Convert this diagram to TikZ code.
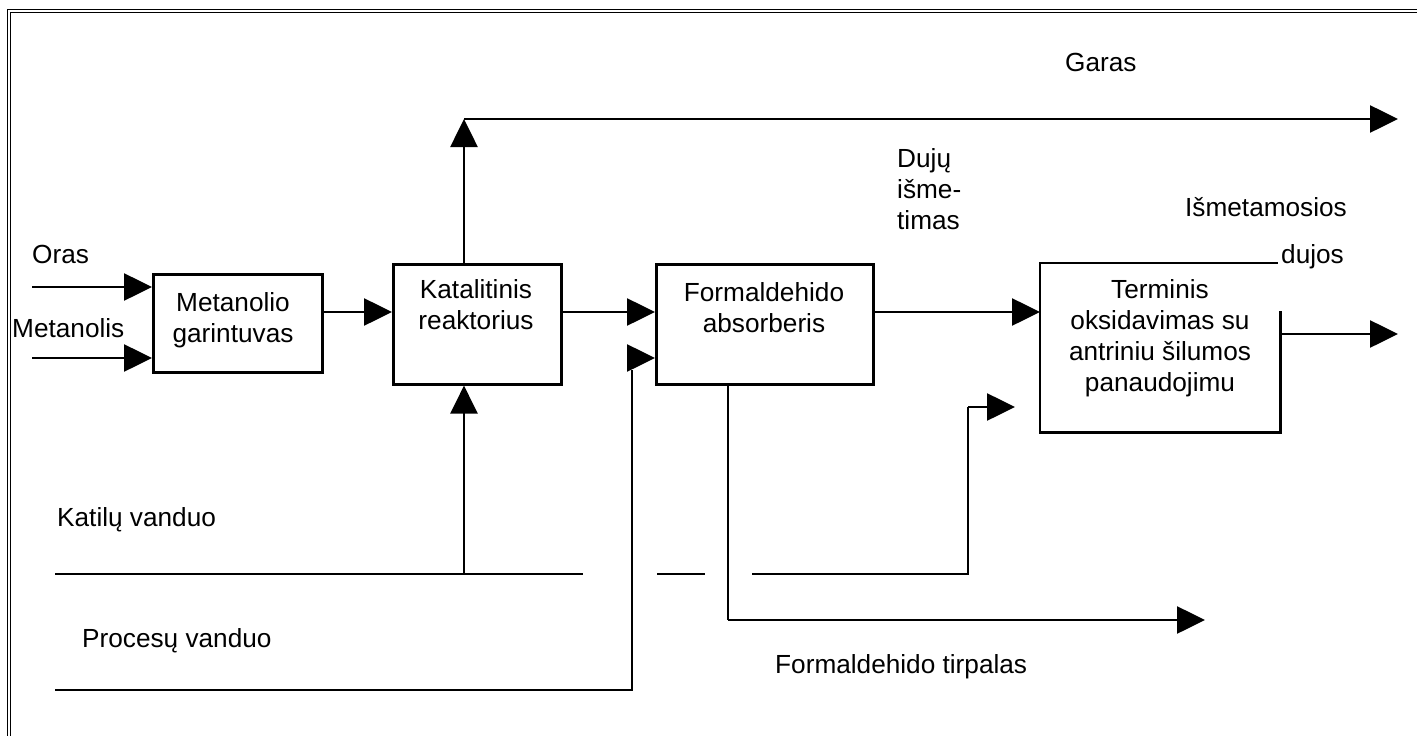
\documentclass[tikz,border=0pt]{standalone}
\usepackage{fontspec}
\setmainfont{Liberation Sans}
\usetikzlibrary{arrows.meta}
\begin{document}
\begin{tikzpicture}[x=1pt,y=-1pt,
  ln/.style={line width=2.6pt},
  arr/.style={ln,-{Triangle[length=28pt,width=27pt]}},
  box/.style={draw,line width=2.6pt,inner sep=0pt,anchor=north west},
  hbox/.style={inner sep=0pt,anchor=north west},
  txt/.style={inner sep=0pt,font=\fontsize{26.2}{30.8}\selectfont},
  btxt/.style={txt,align=center,anchor=base},
  ltxt/.style={txt,anchor=base west},
  frame/.style={line width=1.2pt}
  ]
\useasboundingbox (0,0) rectangle (1417,736);
% double frame (top and left)
\draw[frame] (7.5,736) -- (7.5,9.5) -- (1417,9.5);
\draw[frame] (10.8,736) -- (10.8,12.8) -- (1417,12.8);

% boxes
\node[box,minimum width=169pt,minimum height=98pt] (mg) at (152,273) {};
\node[box,minimum width=168pt,minimum height=120pt] (kr) at (392,263) {};
\node[box,minimum width=217pt,minimum height=120pt] (fa) at (655,263) {};
\node[hbox,minimum width=240pt,minimum height=169pt] (tt) at (1040,263) {};
\draw[ln] (tt.north east |- 0,311) -- (tt.south east) -- (tt.south west) -- (tt.north west) -- ([xshift=-2pt]tt.north east);

% box texts (anchor = baseline of the last line)
\node[btxt] (mgt) at (233,342) {Metanolio\\garintuvas};
\node[btxt] (krt) at (476,329) {Katalitinis\\reaktorius};
\node[btxt] (fat) at (764,332) {Formaldehido\\absorberis};
\node[btxt] (ttt) at (1160,391) {Terminis\\oksidavimas su\\antriniu šilumos\\panaudojimu};

% labels
\node[ltxt] (loras) at (32,263) {Oras};
\node[ltxt] (lmet) at (12,337) {Metanolis};
\node[ltxt] (lkat) at (57,526) {Katilų vanduo};
\node[ltxt] (lpro) at (82,647) {Procesų vanduo};
\node[ltxt] (lftir) at (775,673) {Formaldehido tirpalas};
\node[ltxt] (lgar) at (1065,71) {Garas};
\node[ltxt,align=left] (ldu) at (897,229) {Dujų\\išme-\\timas};
\node[ltxt] (lism) at (1185,216) {Išmetamosios};
\node[ltxt] (ldujos) at (1281,263) {dujos};

% coordinates
\coordinate (oras0) at (32,287);
\coordinate (met0) at (32,358);
\coordinate (y312) at (0,312);
\coordinate (y358) at (0,358);
\coordinate (garc) at (464,119);
\coordinate (garend) at (1398,119);
\coordinate (kat0) at (55,574);
\coordinate (kat1) at (583,574);
\coordinate (katv) at (464,574);
\coordinate (seg0) at (657,574);
\coordinate (seg1) at (705,574);
\coordinate (re0) at (752,574);
\coordinate (re1) at (968,574);
\coordinate (re2) at (968,407);
\coordinate (re3) at (1015,407);
\coordinate (pro0) at (55,690);
\coordinate (pro1) at (632,690);
\coordinate (ft0) at (728,620);
\coordinate (ftend) at (1205,620);
\coordinate (outt) at (1398,334);

% connectors
\draw[arr] (oras0) -- (mg.west |- oras0);
\draw[arr] (met0) -- (mg.west |- met0);
\draw[arr] (mg.east |- y312) -- (kr.west |- y312);
\draw[arr] (kr.east |- y312) -- (fa.west |- y312);
\draw[arr] (fa.east |- y312) -- (tt.west |- y312);
\draw[arr] (kr.north -| garc) -- (garc);
\draw[arr] (garc) -- (garend);
\draw[ln] (kat0) -- (kat1);
\draw[arr] (katv) -- (kr.south -| katv);
\draw[ln] (seg0) -- (seg1);
\draw[ln] (re0) -- (re1) -- (re2);
\draw[arr] (re2) -- (re3);
\draw[ln] (pro0) -- (pro1) -- (pro1 |- 0,370);
\draw[arr] ([xshift=-28pt]fa.west |- y358) -- (fa.west |- y358);
\draw[ln] (fa.south -| ft0) -- (ft0);
\draw[arr] (ft0) -- (ftend);
\draw[arr] (tt.east |- outt) ++(2,0) -- (outt);
\end{tikzpicture}
\end{document}
